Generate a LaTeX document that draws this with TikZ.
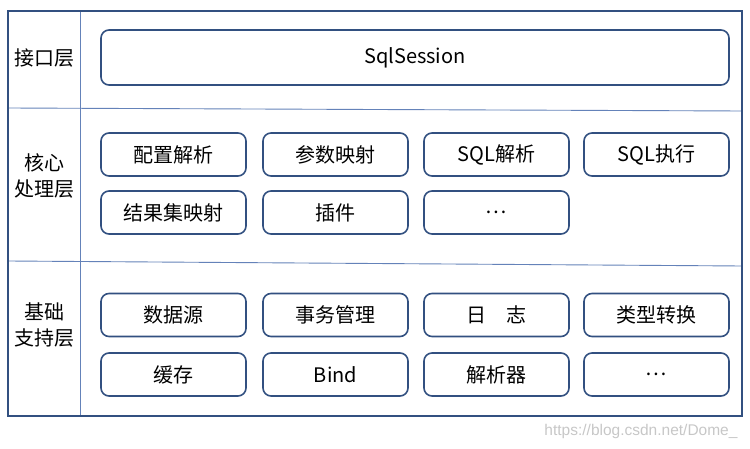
\documentclass[tikz,border=0pt]{standalone}
\usepackage{fontspec}
\setmainfont{Noto Sans CJK SC}
\newfontfamily\markfont{Liberation Sans}
\definecolor{boxblue}{RGB}{50,80,128}
\definecolor{lineblue}{RGB}{100,130,185}
\begin{document}
\begin{tikzpicture}[x=1pt,y=-1pt,
    box/.style={draw=boxblue,line width=1.6pt,rounded corners=8pt,minimum width=145pt,minimum height=43pt,inner sep=0pt,font=\fontsize{20}{22}\selectfont},
    layer/.style={align=center,font=\fontsize{20}{26}\selectfont}]

    \useasboundingbox (0,0) rectangle (750,449);

    % frame and layer lines
    \draw[lineblue,line width=0.9pt] (80,11) -- (80,416);
    \draw[lineblue,line width=0.9pt] (8,108) -- (742,111);
    \draw[lineblue,line width=0.9pt] (8,261) -- (742,266);
    \draw[boxblue,line width=1.6pt] (8,11) rectangle (742,416);

    % layer names
    \node [layer] (api) at (44,58) {接口层};
    \node [layer] (core) at (44,176) {核心\\处理层};
    \node [layer] (base) at (44,325) {基础\\支持层};

    % interface layer
    \node [box,minimum width=628pt,minimum height=55pt] (session) at (415,57.5) {SqlSession};

    % core layer
    \node [box] (config) at (173.5,154.5) {配置解析};
    \node [box] (param) at (335.5,154.5) {参数映射};
    \node [box] (sqlparse) at (496.5,154.5) {SQL解析};
    \node [box] (sqlexec) at (656.5,154.5) {SQL执行};
    \node [box] (result) at (173.5,212.5) {结果集映射};
    \node [box] (plugin) at (335.5,212.5) {插件};
    \node [box] (coremore) at (496.5,212.5) {…};

    % base layer
    \node [box] (source) at (173.5,315) {数据源};
    \node [box] (trans) at (335.5,315) {事务管理};
    \node [box] (log) at (496.5,315) {日\quad 志};
    \node [box] (convert) at (656.5,315) {类型转换};
    \node [box] (cache) at (173.5,374.5) {缓存};
    \node [box] (bind) at (335.5,374.5) {Bind};
    \node [box] (parser) at (496.5,374.5) {解析器};
    \node [box] (basemore) at (656.5,374.5) {…};

    \node [anchor=east,text=black!22,font=\markfont\fontsize{15.5}{17}\selectfont] (mark) at (741,431) {https://blog.csdn.net/Dome\_};

\end{tikzpicture}
\end{document}
